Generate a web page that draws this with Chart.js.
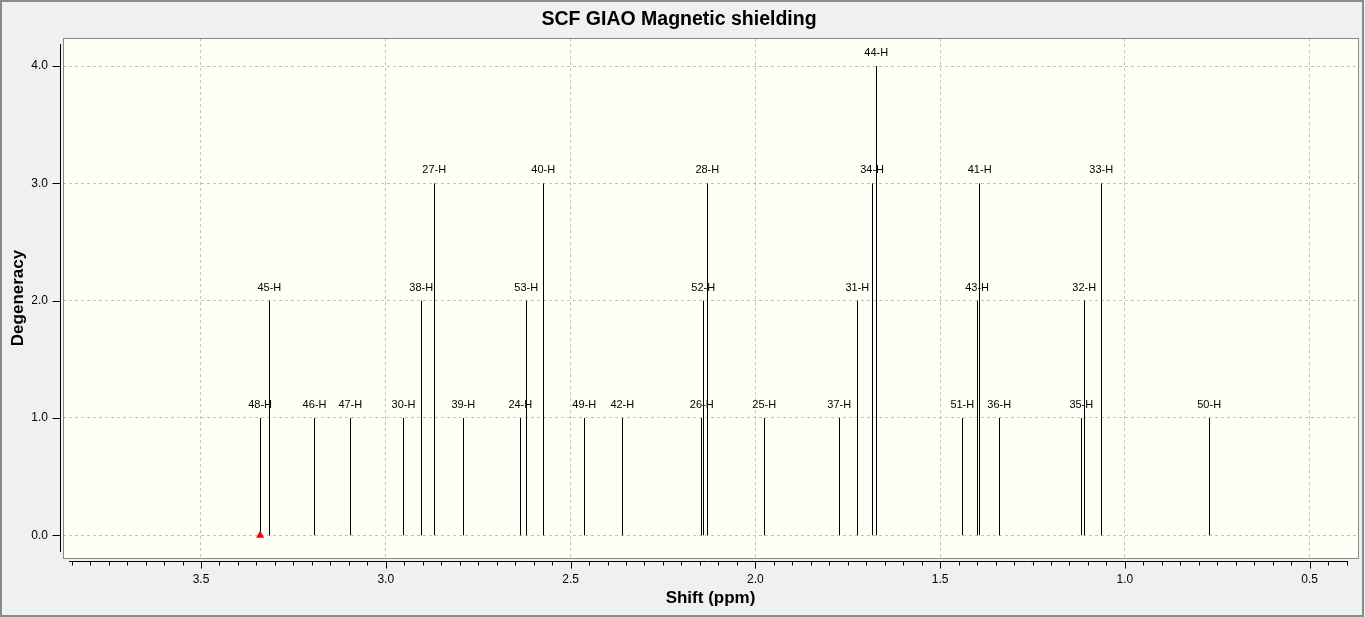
<!DOCTYPE html>
<html>
<head>
<meta charset="utf-8">
<title>SCF GIAO Magnetic shielding</title>
<script src="https://cdn.jsdelivr.net/npm/chart.js@4.4.1/dist/chart.umd.min.js"></script>
<style>
    html, body { margin: 0; padding: 0; background: #f0f0f0; overflow: hidden; }
    #shieldingChart { display: block; }
</style>
</head>
<body>
<canvas id="shieldingChart" width="1365" height="617"></canvas>
<script>
// peaks, ordered from high to low shift
const atoms = ["48-H", "45-H", "46-H", "47-H", "30-H", "38-H", "27-H", "39-H", "24-H", "53-H",
    "40-H", "49-H", "42-H", "26-H", "52-H", "28-H", "25-H", "37-H", "31-H", "34-H",
    "44-H", "51-H", "43-H", "41-H", "36-H", "35-H", "32-H", "33-H", "50-H"];
const shifts = [3.340, 3.315, 3.193, 3.096, 2.952, 2.904, 2.869, 2.790, 2.636, 2.620,
    2.574, 2.463, 2.360, 2.145, 2.141, 2.130, 1.976, 1.773, 1.724, 1.684,
    1.673, 1.440, 1.400, 1.393, 1.340, 1.118, 1.110, 1.064, 0.772];
const degeneracy = [1, 2, 1, 1, 1, 2, 3, 1, 1, 2,
    3, 1, 1, 1, 2, 3, 1, 1, 2, 3,
    4, 1, 2, 3, 1, 1, 2, 3, 1];

const xTicks = [3.5, 3.0, 2.5, 2.0, 1.5, 1.0, 0.5];
const yTicks = [0, 1, 2, 3, 4];
const xMinorFrom = 3.85, xMinorTo = 0.40, xMinorStep = 0.05;
const selectedPeak = 0; // red marker

document.addEventListener("DOMContentLoaded", () => {
    Chart.defaults.font.family = '"Liberation Sans", Arial, sans-serif';
    Chart.defaults.color = "#000";

    // each stick: base, top, gap
    const sticks = [];
    shifts.forEach((s, i) => {
        sticks.push({ x: s, y: 0 }, { x: s, y: degeneracy[i] }, { x: s, y: null });
    });

    const framePlugin = {
        id: "frame",
        afterDatasetUpdate(chart, args) {
            // keep the 1px sticks on whole pixels so they stay black
            if (args.index !== 1) return;
            args.meta.data.forEach(p => { p.x = Math.floor(p.x) + 0.5; });
        },
        beforeDraw(chart) {
            const { ctx, chartArea: a, width, height } = chart;
            ctx.save();
            ctx.fillStyle = "#f0f0f0";
            ctx.fillRect(0, 0, width, height);
            ctx.strokeStyle = "#8a8a8a";
            ctx.lineWidth = 2;
            ctx.strokeRect(1, 1, width - 3, height - 2);
            ctx.fillStyle = "#fffff6";
            ctx.fillRect(a.left, a.top, a.right - a.left, a.bottom - a.top);
            ctx.restore();
        },
        afterDraw(chart) {
            const { ctx, chartArea: a } = chart;
            const xs = chart.scales.x, ys = chart.scales.y;
            ctx.save();
            ctx.lineWidth = 1;
            ctx.strokeStyle = "#888";
            ctx.strokeRect(a.left + 0.5, a.top + 0.5, a.right - a.left, a.bottom - a.top);

            ctx.strokeStyle = "#000";
            ctx.beginPath();
            // y axis
            const yx = a.left - 2.5;
            ctx.moveTo(yx, a.top + 6);
            ctx.lineTo(yx, a.bottom - 6);
            yTicks.forEach(v => {
                const py = Math.round(ys.getPixelForValue(v)) + 0.5;
                ctx.moveTo(yx - 8, py);
                ctx.lineTo(yx, py);
            });
            // x axis
            const xy = a.bottom + 3.5;
            ctx.moveTo(a.left + 6, xy);
            ctx.lineTo(a.right - 10, xy);
            for (let v = xMinorFrom; v >= xMinorTo - 1e-6; v -= xMinorStep) {
                const major = xTicks.some(t => Math.abs(t - v) < 1e-6);
                const px = Math.round(xs.getPixelForValue(v)) + 0.5;
                ctx.moveTo(px, xy);
                ctx.lineTo(px, xy + (major ? 7 : 4));
            }
            ctx.stroke();
            ctx.restore();
        },
        afterDatasetsDraw(chart) {
            const { ctx } = chart;
            const xs = chart.scales.x, ys = chart.scales.y;
            ctx.save();
            ctx.font = '11px "Liberation Sans", Arial, sans-serif';
            ctx.fillStyle = "#000";
            ctx.textAlign = "center";
            ctx.textBaseline = "middle";
            atoms.forEach((name, i) => {
                ctx.fillText(name, xs.getPixelForValue(shifts[i]), ys.getPixelForValue(degeneracy[i]) - 13);
            });
            ctx.restore();
        }
    };

    const ctxShield = document.getElementById("shieldingChart").getContext("2d");
    new Chart(ctxShield, {
        type: "line",
        data: {
            datasets: [{
                type: "scatter",
                data: [{ x: shifts[selectedPeak], y: 0 }],
                pointStyle: "triangle",
                pointRadius: 4.7,
                backgroundColor: "#ff0000",
                borderWidth: 0
            }, {
                data: sticks,
                borderColor: "#000",
                borderWidth: 1,
                pointRadius: 0,
                spanGaps: false,
                fill: false
            }]
        },
        options: {
            responsive: false,
            animation: false,
            events: [],
            layout: { padding: { left: 0, top: 0, right: 7, bottom: 0 } },
            plugins: {
                legend: { display: false },
                tooltip: { enabled: false },
                title: {
                    display: true,
                    text: "SCF GIAO Magnetic shielding",
                    color: "#000",
                    font: { size: 19.5, weight: "bold" },
                    padding: { top: 8, bottom: 6.6 }
                }
            },
            scales: {
                x: {
                    type: "linear",
                    reverse: true,
                    min: 0.3693,
                    max: 3.8734,
                    afterBuildTicks: axis => { axis.ticks = xTicks.map(v => ({ value: v })); },
                    afterFit: axis => { axis.height = 59; },
                    ticks: {
                        padding: 14,
                        maxRotation: 0,
                        font: { size: 12 },
                        callback: v => Number(v).toFixed(1)
                    },
                    grid: { color: "#c2c2c2", drawTicks: false },
                    border: { display: false, dash: [3, 3] },
                    title: {
                        display: true,
                        text: "Shift (ppm)",
                        font: { size: 17, weight: "bold" },
                        padding: { top: 0, bottom: 8 }
                    }
                },
                y: {
                    min: -0.1935,
                    max: 4.2387,
                    afterBuildTicks: axis => { axis.ticks = yTicks.map(v => ({ value: v })); },
                    afterFit: axis => { axis.width = 63; },
                    ticks: {
                        padding: 15,
                        font: { size: 12 },
                        callback: v => Number(v).toFixed(1)
                    },
                    grid: { color: "#c2c2c2", drawTicks: false },
                    border: { display: false, dash: [3, 3] },
                    title: {
                        display: true,
                        text: "Degeneracy",
                        font: { size: 17, weight: "bold" },
                        padding: { top: 8, bottom: 0 }
                    }
                }
            }
        },
        plugins: [framePlugin]
    });
});
</script>
</body>
</html>
